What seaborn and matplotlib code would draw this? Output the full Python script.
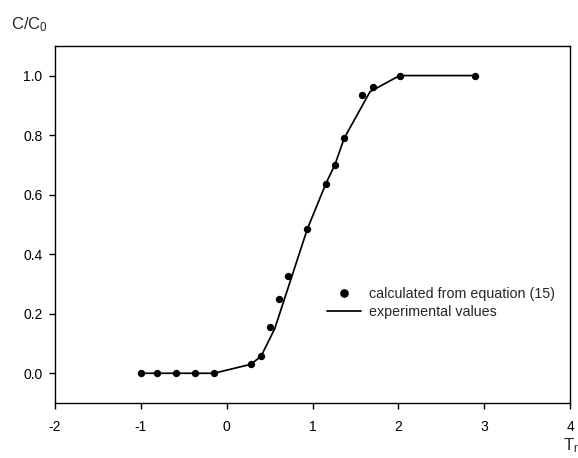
import matplotlib
matplotlib.use("Agg")
import matplotlib.pyplot as plt
from matplotlib.lines import Line2D
import seaborn as sns
import pandas as pd

# Calculated breakthrough values (equation 15)
calc_tr = [-1.0, -0.81, -0.59, -0.37, -0.15, 0.28, 0.40, 0.50, 0.61, 0.72,
           0.935, 1.16, 1.26, 1.37, 1.58, 1.70, 2.015, 2.89]
calc_c = [0.0, 0.0, 0.0, 0.0, 0.0, 0.03, 0.057, 0.155, 0.25, 0.327,
          0.485, 0.636, 0.70, 0.79, 0.934, 0.961, 1.0, 1.0]

# Experimental breakthrough curve
exp_tr = [-1.0, -0.81, -0.59, -0.37, -0.15, 0.28, 0.40, 0.56, 0.94,
          1.16, 1.26, 1.37, 1.67, 2.015, 2.89]
exp_c = [0.0, 0.0, 0.0, 0.0, 0.0, 0.03, 0.057, 0.15, 0.485,
         0.64, 0.70, 0.79, 0.946, 1.0, 1.0]

x_ticks = [-2, -1, 0, 1, 2, 3, 4]
y_ticks = [0.0, 0.2, 0.4, 0.6, 0.8, 1.0]

sns.set_theme(style="ticks")
plt.rcParams["font.family"] = ["Liberation Sans", "DejaVu Sans"]
plt.rcParams["mathtext.fontset"] = "custom"
plt.rcParams["mathtext.rm"] = "Liberation Sans"
plt.rcParams["mathtext.it"] = "Liberation Sans"

fig = plt.figure(figsize=(5.78, 4.58), dpi=100)
ax = fig.add_axes([0.0952, 0.120, 0.891, 0.780])

calc = pd.DataFrame({"Tr": calc_tr, "C": calc_c})
expt = pd.DataFrame({"Tr": exp_tr, "C": exp_c})

sns.lineplot(data=expt, x="Tr", y="C", ax=ax, color="black", linewidth=1.25,
             sort=False, estimator=None)
sns.scatterplot(data=calc, x="Tr", y="C", ax=ax, color="black", s=28,
                edgecolor="black", linewidth=0, zorder=3)

ax.set_xlim(-2, 4)
ax.set_ylim(-0.1, 1.1)
ax.set_xticks(x_ticks)
ax.set_xticklabels([f"{t:d}" for t in x_ticks])
ax.set_yticks(y_ticks)
ax.set_yticklabels([f"{t:.1f}" for t in y_ticks])
ax.set_xlabel("")
ax.set_ylabel("")

for side in ["left", "bottom", "top", "right"]:
    ax.spines[side].set_linewidth(1.0)
    ax.spines[side].set_color("black")
ax.tick_params(direction="out", length=4, width=1.0, labelsize=10,
               colors="black")
ax.tick_params(axis="x", pad=8)
ax.tick_params(axis="y", pad=5)

fig.text(11 / 578, 1 - 25 / 458, "C/C$_0$", fontsize=12, ha="left", va="center")
fig.text(563 / 578, 1 - 446 / 458, "T$_r$", fontsize=12, ha="left", va="center")

handles = [
    Line2D([], [], color="black", marker="o", linestyle="none", markersize=5.2),
    Line2D([], [], color="black", linewidth=1.25),
]
ax.legend(handles, ["calculated from equation (15)", "experimental values"],
          loc="center left", bbox_to_anchor=(0.528, 0.280), frameon=False,
          fontsize=10.3, handlelength=2.4, handletextpad=0.55,
          labelspacing=0.3, borderpad=0, borderaxespad=0)

fig.savefig("out.png", dpi=100, facecolor="white")
